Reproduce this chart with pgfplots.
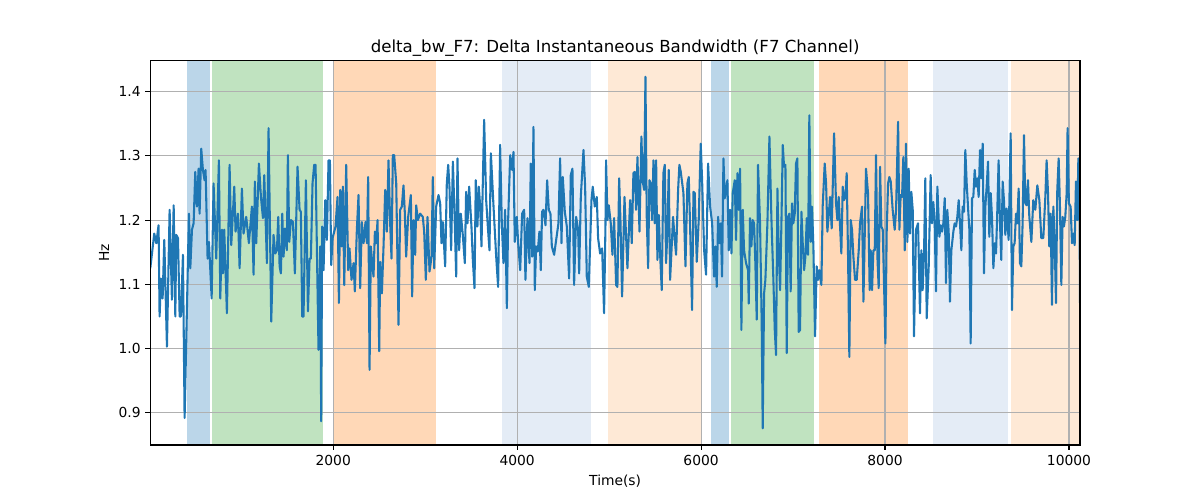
\documentclass[border=0pt]{standalone}
\usepackage{pgfplots}
\pgfplotsset{compat=1.18}
\usepackage{pgfplotstable}
\usepackage{fontspec}
\setmainfont{DejaVu Sans}
\definecolor{tabblue}{RGB}{31,119,180}
\definecolor{spanblue}{RGB}{187,214,233}
\definecolor{spangreen}{RGB}{192,227,192}
\definecolor{spanorange}{RGB}{255,216,183}
\definecolor{lightblue}{RGB}{228,236,246}
\definecolor{lightorange}{RGB}{254,233,214}
\definecolor{gridgray}{RGB}{176,176,176}
\pgfplotstableread{
x y
11 1.125
54 1.179
76 1.164
101 1.192
112 1.050
127 1.109
145 1.078
163 1.169
192 1.003
221 1.216
246 1.076
265 1.223
283 1.050
293 1.177
312 1.172
330 1.050
344 1.050
366 1.146
384 0.892
409 1.060
431 1.210
446 1.125
464 1.185
482 1.195
500 1.275
518 1.221
536 1.280
547 1.210
565 1.311
583 1.278
601 1.262
612 1.278
634 1.140
649 1.166
678 1.078
699 1.257
728 1.140
757 1.293
772 1.078
790 1.185
801 1.117
815 1.185
844 1.055
873 1.286
891 1.161
924 1.252
938 1.182
964 1.210
982 1.125
1007 1.249
1025 1.179
1054 1.205
1083 1.164
1116 1.221
1134 1.115
1148 1.260
1163 1.164
1192 1.288
1214 1.236
1236 1.203
1250 1.270
1279 1.133
1297 1.343
1326 1.042
1351 1.177
1370 1.148
1388 1.153
1402 1.205
1417 1.128
1431 1.117
1446 1.210
1460 1.143
1475 1.187
1496 1.153
1507 1.301
1522 1.166
1540 1.200
1562 1.197
1583 1.117
1612 1.283
1634 1.216
1648 1.213
1663 1.050
1677 1.050
1703 1.262
1725 1.058
1743 1.140
1757 1.140
1775 1.257
1793 1.286
1808 1.286
1840 0.998
1859 1.159
1869 0.887
1880 1.190
1895 1.122
1913 1.231
1931 1.169
1949 1.293
1964 1.293
1978 1.130
1993 1.172
2025 1.190
2047 1.236
2062 1.071
2076 1.247
2091 1.159
2105 1.252
2120 1.099
2141 1.286
2163 1.122
2177 1.156
2199 1.107
2221 1.133
2235 1.089
2257 1.185
2275 1.239
2293 1.094
2311 1.197
2330 1.164
2351 1.197
2366 1.164
2380 1.267
2395 0.967
2409 1.159
2424 1.133
2438 1.112
2453 1.182
2467 1.164
2482 1.200
2500 0.996
2511 1.135
2529 1.086
2547 1.159
2565 1.247
2583 1.182
2601 1.293
2619 1.195
2634 1.140
2648 1.301
2663 1.301
2685 1.257
2710 1.037
2728 1.216
2746 1.221
2764 1.254
2779 1.210
2793 1.143
2815 1.205
2844 1.239
2858 1.081
2873 1.200
2891 1.146
2902 1.223
2920 1.200
2945 1.210
2974 1.205
2989 1.182
3007 1.107
3025 1.205
3047 1.120
3069 1.143
3083 1.267
3098 1.125
3119 1.221
3145 1.239
3163 1.226
3177 1.164
3192 1.197
3217 1.128
3235 1.257
3250 1.286
3264 1.252
3282 1.153
3301 1.291
3319 1.210
3337 1.112
3351 1.296
3369 1.153
3387 1.210
3409 1.177
3431 1.133
3445 1.244
3460 1.195
3478 1.252
3503 1.190
3518 1.138
3536 1.094
3550 1.262
3568 1.190
3583 1.252
3598 1.221
3612 1.159
3641 1.356
3663 1.231
3681 1.190
3699 1.153
3714 1.304
3743 1.221
3772 1.143
3793 1.096
3815 1.317
3833 1.195
3851 1.133
3869 1.216
3888 1.063
3902 1.200
3924 1.301
3945 1.278
3960 1.306
3974 1.166
3996 1.205
4011 1.164
4033 1.122
4054 1.210
4076 1.216
4090 1.107
4112 1.203
4134 1.133
4148 1.288
4163 1.143
4177 1.345
4192 1.091
4206 1.159
4224 1.151
4242 1.182
4257 1.122
4271 1.213
4286 1.216
4308 1.192
4326 1.262
4344 1.216
4362 1.210
4377 1.159
4402 1.146
4424 1.169
4449 1.195
4467 1.296
4482 1.164
4496 1.267
4518 1.213
4540 1.190
4565 1.109
4583 1.270
4601 1.280
4619 1.099
4641 1.205
4663 1.185
4674 1.117
4692 1.236
4721 1.309
4739 1.252
4757 1.112
4779 1.096
4808 1.231
4822 1.252
4844 1.221
4866 1.236
4880 1.172
4902 1.148
4924 1.156
4945 1.055
4960 1.190
4967 1.293
4982 1.200
4996 1.223
5018 1.195
5036 1.146
5054 1.203
5076 1.099
5090 1.096
5109 1.265
5123 1.200
5141 1.081
5167 1.236
5177 1.200
5199 1.125
5228 1.231
5246 1.164
5264 1.273
5279 1.275
5293 1.216
5308 1.298
5330 1.182
5351 1.330
5366 1.260
5380 1.247
5395 1.423
5409 1.205
5424 1.125
5438 1.262
5453 1.257
5467 1.200
5482 1.293
5496 1.195
5511 1.293
5525 1.138
5540 1.208
5554 1.148
5572 1.091
5590 1.273
5605 1.286
5619 1.133
5634 1.182
5648 1.278
5663 1.107
5681 1.161
5695 1.205
5714 1.169
5728 1.146
5750 1.247
5764 1.286
5779 1.275
5808 1.242
5830 1.128
5851 1.257
5866 1.267
5880 1.192
5902 1.060
5917 1.244
5931 1.242
5953 1.135
5974 1.200
5996 1.319
6011 1.262
6033 1.153
6054 1.115
6076 1.288
6098 1.221
6120 1.195
6141 1.112
6156 1.159
6170 1.096
6185 1.205
6199 1.164
6214 1.195
6228 1.112
6243 1.296
6257 1.234
6272 1.247
6286 1.262
6301 1.153
6315 1.216
6330 1.148
6344 1.242
6366 1.262
6380 1.169
6395 1.273
6409 1.216
6424 1.280
6438 1.029
6453 1.216
6467 1.153
6489 1.133
6511 1.122
6518 1.070
6532 1.203
6547 1.159
6561 1.200
6576 1.195
6590 1.133
6605 1.045
6619 1.286
6641 1.195
6659 1.040
6670 0.876
6685 1.086
6699 1.107
6721 1.195
6743 1.330
6764 1.205
6786 1.107
6801 1.029
6815 0.990
6830 1.249
6844 1.153
6859 1.091
6873 1.192
6888 1.317
6902 1.283
6917 1.286
6931 0.993
6945 1.205
6960 1.210
6974 1.089
6989 1.226
7003 1.195
7018 1.210
7032 1.288
7047 1.296
7061 1.026
7076 1.029
7091 1.213
7105 1.164
7120 1.122
7134 1.143
7149 1.203
7163 1.146
7177 1.363
7192 1.166
7206 1.221
7221 1.159
7239 1.019
7257 1.128
7272 1.107
7286 1.122
7308 1.099
7322 1.221
7344 1.288
7359 1.257
7373 1.182
7388 1.208
7402 1.236
7420 1.187
7446 1.335
7467 1.226
7482 1.200
7496 1.236
7511 1.190
7525 1.148
7540 1.252
7554 1.231
7569 1.236
7583 1.273
7598 1.143
7612 0.987
7627 1.200
7641 1.185
7656 1.143
7674 1.107
7692 1.107
7714 1.153
7728 1.195
7750 1.221
7765 1.073
7779 1.174
7793 1.280
7815 1.242
7833 1.091
7844 1.153
7859 1.091
7873 1.153
7888 1.153
7902 1.301
7917 1.143
7931 1.094
7946 1.283
7960 1.190
7975 1.185
7989 1.102
8004 1.008
8018 1.182
8033 1.257
8047 1.267
8062 1.260
8083 1.216
8105 1.185
8120 1.216
8142 1.353
8156 1.185
8170 1.239
8185 1.236
8199 1.298
8214 1.153
8228 1.319
8243 1.166
8257 1.280
8272 1.179
8286 1.244
8301 1.216
8315 1.019
8337 1.185
8359 1.195
8380 1.055
8395 1.153
8409 1.091
8424 1.148
8438 1.265
8453 1.047
8475 1.128
8496 1.270
8511 1.195
8525 1.228
8540 1.195
8554 1.089
8569 1.252
8591 1.174
8605 1.192
8620 1.182
8634 1.195
8649 1.234
8663 1.102
8677 1.216
8692 1.182
8706 1.073
8721 1.153
8743 1.182
8757 1.195
8772 1.190
8786 1.205
8801 1.231
8815 1.195
8830 1.153
8844 1.221
8859 1.213
8873 1.309
8888 1.257
8902 1.221
8917 1.185
8931 1.008
8946 1.234
8960 1.236
8975 1.278
8989 1.252
9004 1.265
9018 1.236
9033 1.309
9047 1.265
9062 1.319
9076 1.117
9091 1.221
9105 1.252
9120 1.291
9134 1.174
9149 1.242
9163 1.205
9178 1.125
9192 1.164
9207 1.148
9221 1.216
9235 1.293
9250 1.195
9264 1.138
9279 1.260
9293 1.231
9308 1.177
9322 1.218
9344 1.169
9366 1.335
9380 1.060
9395 1.159
9409 1.164
9424 1.210
9438 1.195
9453 1.249
9467 1.133
9482 1.128
9496 1.195
9511 1.332
9525 1.226
9540 1.223
9554 1.262
9569 1.205
9591 1.166
9612 1.231
9634 1.216
9656 1.254
9678 1.231
9699 1.172
9721 1.172
9743 1.236
9757 1.293
9772 1.242
9786 1.159
9801 1.210
9815 1.068
9830 1.221
9844 1.169
9859 1.071
9873 1.247
9888 1.296
9902 1.221
9917 1.099
9931 1.205
9945 1.190
9960 1.205
9975 1.242
9985 1.343
9999 1.226
10018 1.221
10033 1.164
10047 1.179
10062 1.161
10076 1.260
10091 1.200
10102 1.296
10112 1.293
10120 1.071
}\datatable
\begin{document}
\begin{tikzpicture}
\path[use as bounding box] (0,0) rectangle (12in,5in);
\begin{axis}[
  at={(1.503in,0.55in)}, anchor=south west,
  scale only axis, width=9.297in, height=3.843in,
  axis on top,
  xmin=11, xmax=10120, ymin=0.85, ymax=1.448,
  xtick={2000,4000,6000,8000,10000},
  ytick={0.9,1.0,1.1,1.2,1.3,1.4},
  scaled ticks=false,
  xticklabel style={/pgf/number format/set thousands separator={}},
  yticklabel style={/pgf/number format/fixed,/pgf/number format/fixed zerofill,/pgf/number format/precision=1},
  /pgf/number format/assume math mode=true,
  tick label style={font=\fontsize{10}{12}\selectfont, text=black},
  tick align=outside, major tick length=3.5pt,
  tick style={black, line width=0.8pt},
  xtick pos=bottom, ytick pos=left,
  axis line style={black, line width=0.8pt},
  title={delta\_bw\_F7: Delta Instantaneous Bandwidth (F7 Channel)},
  title style={font=\fontsize{12}{14}\selectfont, yshift=-6.5pt},
  xlabel={Time(s)}, ylabel={Hz},
  label style={font=\fontsize{10}{12}\selectfont},
]
\addplot[fill=spanblue, draw=none] coordinates {(413,0.85) (663,0.85) (663,1.448) (413,1.448)};
\addplot[fill=spangreen, draw=none] coordinates {(685,0.85) (1891,0.85) (1891,1.448) (685,1.448)};
\addplot[fill=spanorange, draw=none] coordinates {(2000,0.85) (3120,0.85) (3120,1.448) (2000,1.448)};
\addplot[fill=lightblue, draw=none] coordinates {(3837,0.85) (4804,0.85) (4804,1.448) (3837,1.448)};
\addplot[fill=lightorange, draw=none] coordinates {(4989,0.85) (6011,0.85) (6011,1.448) (4989,1.448)};
\addplot[fill=spanblue, draw=none] coordinates {(6109,0.85) (6304,0.85) (6304,1.448) (6109,1.448)};
\addplot[fill=spangreen, draw=none] coordinates {(6326,0.85) (7228,0.85) (7228,1.448) (6326,1.448)};
\addplot[fill=spanorange, draw=none] coordinates {(7283,0.85) (8250,0.85) (8250,1.448) (7283,1.448)};
\addplot[fill=lightblue, draw=none] coordinates {(8522,0.85) (9337,0.85) (9337,1.448) (8522,1.448)};
\addplot[fill=lightorange, draw=none] coordinates {(9370,0.85) (10120,0.85) (10120,1.448) (9370,1.448)};
\addplot[gridgray, line width=0.8pt, forget plot] coordinates {(2000,0.85) (2000,1.448)};
\addplot[gridgray, line width=0.8pt, forget plot] coordinates {(4000,0.85) (4000,1.448)};
\addplot[gridgray, line width=0.8pt, forget plot] coordinates {(6000,0.85) (6000,1.448)};
\addplot[gridgray, line width=0.8pt, forget plot] coordinates {(8000,0.85) (8000,1.448)};
\addplot[gridgray, line width=0.8pt, forget plot] coordinates {(10000,0.85) (10000,1.448)};
\addplot[gridgray, line width=0.8pt, forget plot] coordinates {(11,0.9) (10120,0.9)};
\addplot[gridgray, line width=0.8pt, forget plot] coordinates {(11,1.0) (10120,1.0)};
\addplot[gridgray, line width=0.8pt, forget plot] coordinates {(11,1.1) (10120,1.1)};
\addplot[gridgray, line width=0.8pt, forget plot] coordinates {(11,1.2) (10120,1.2)};
\addplot[gridgray, line width=0.8pt, forget plot] coordinates {(11,1.3) (10120,1.3)};
\addplot[gridgray, line width=0.8pt, forget plot] coordinates {(11,1.4) (10120,1.4)};
\addplot[tabblue, line width=1.5pt, line join=round] table[x=x, y=y] {\datatable};
\end{axis}
\end{tikzpicture}
\end{document}
